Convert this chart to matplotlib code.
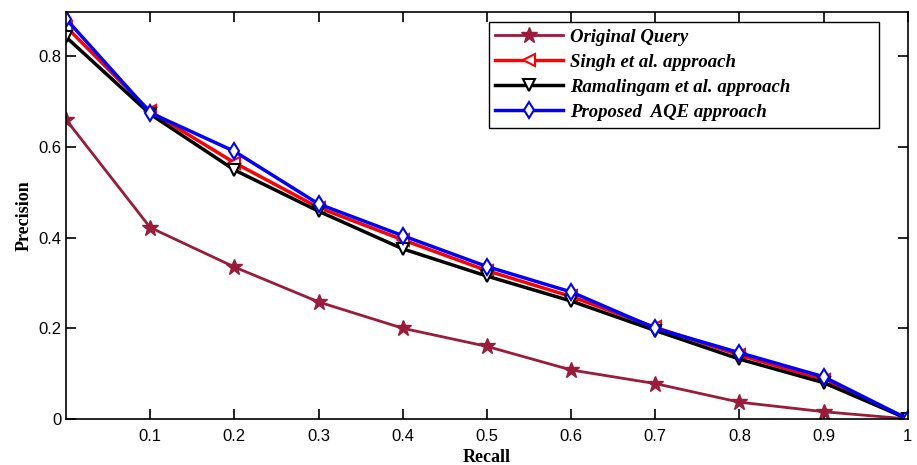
import matplotlib
matplotlib.use("Agg")

import matplotlib.pyplot as plt

recall = [0.0, 0.1, 0.2, 0.3, 0.4, 0.5, 0.6, 0.7, 0.8, 0.9, 1.0]

original = [0.66, 0.422, 0.335, 0.258, 0.20, 0.16, 0.108, 0.078, 0.037, 0.016, 0.0]
singh = [0.865, 0.678, 0.565, 0.466, 0.395, 0.327, 0.27, 0.202, 0.141, 0.087, 0.0]
ramalingam = [0.842, 0.672, 0.549, 0.458, 0.375, 0.315, 0.26, 0.195, 0.132, 0.08, 0.0]
proposed = [0.882, 0.675, 0.59, 0.474, 0.404, 0.336, 0.28, 0.2, 0.146, 0.093, 0.0]

x_ticks = [0.1, 0.2, 0.3, 0.4, 0.5, 0.6, 0.7, 0.8, 0.9, 1.0]
x_tick_labels = ["0.1", "0.2", "0.3", "0.4", "0.5", "0.6", "0.7", "0.8", "0.9", "1"]
y_ticks = [0, 0.2, 0.4, 0.6, 0.8]
y_tick_labels = ["0", "0.2", "0.4", "0.6", "0.8"]

labels = [
    "Original Query",
    "Singh et al. approach",
    "Ramalingam et al. approach",
    "Proposed  AQE approach",
]

fig = plt.figure(figsize=(9.17, 4.65), dpi=100)
ax = fig.add_axes([0.072, 0.099, 0.918, 0.875])

ax.plot(recall, original, color="#9b1b3a", linewidth=2,
        marker="*", markersize=12, label=labels[0])
ax.plot(recall, singh, color="red", linewidth=2.5,
        marker="<", markersize=8, markerfacecolor="white",
        markeredgewidth=1.5, label=labels[1])
ax.plot(recall, ramalingam, color="black", linewidth=2.5,
        marker="v", markersize=8, markerfacecolor="white",
        markeredgewidth=1.5, label=labels[2])
ax.plot(recall, proposed, color="blue", linewidth=2.5,
        marker="d", markersize=8, markerfacecolor="white",
        markeredgewidth=1.5, label=labels[3])

ax.set_xlim(0, 1)
ax.set_ylim(0, 0.897)

ax.set_xticks(x_ticks)
ax.set_xticklabels(x_tick_labels)
ax.set_yticks(y_ticks)
ax.set_yticklabels(y_tick_labels)

ax.tick_params(direction="in", top=True, right=True, length=7,
               width=1.2, labelsize=12)
ax.tick_params(axis="x", pad=7)
for lab in ax.get_xticklabels() + ax.get_yticklabels():
    lab.set_family("Liberation Sans")

for sp in ax.spines.values():
    sp.set_linewidth(1.2)

ax.set_xlabel("Recall", family="Liberation Serif", fontweight="bold",
              fontsize=13, labelpad=4)
ax.set_ylabel("Precision", family="Liberation Serif", fontweight="bold",
              fontsize=13)

leg = ax.legend(
    loc="upper left",
    bbox_to_anchor=(0.502, 0.717, 0.464, 0.258),
    mode="expand",
    prop={"family": "Liberation Serif", "style": "italic",
          "weight": "bold", "size": 13.5},
    fancybox=False,
    edgecolor="black",
    framealpha=1,
    handlelength=3.6,
    handletextpad=0.4,
    borderpad=0.35,
    labelspacing=0.42,
    borderaxespad=0,
)
leg.get_frame().set_linewidth(1.0)

plt.savefig("out.png", dpi=100)
plt.close()
